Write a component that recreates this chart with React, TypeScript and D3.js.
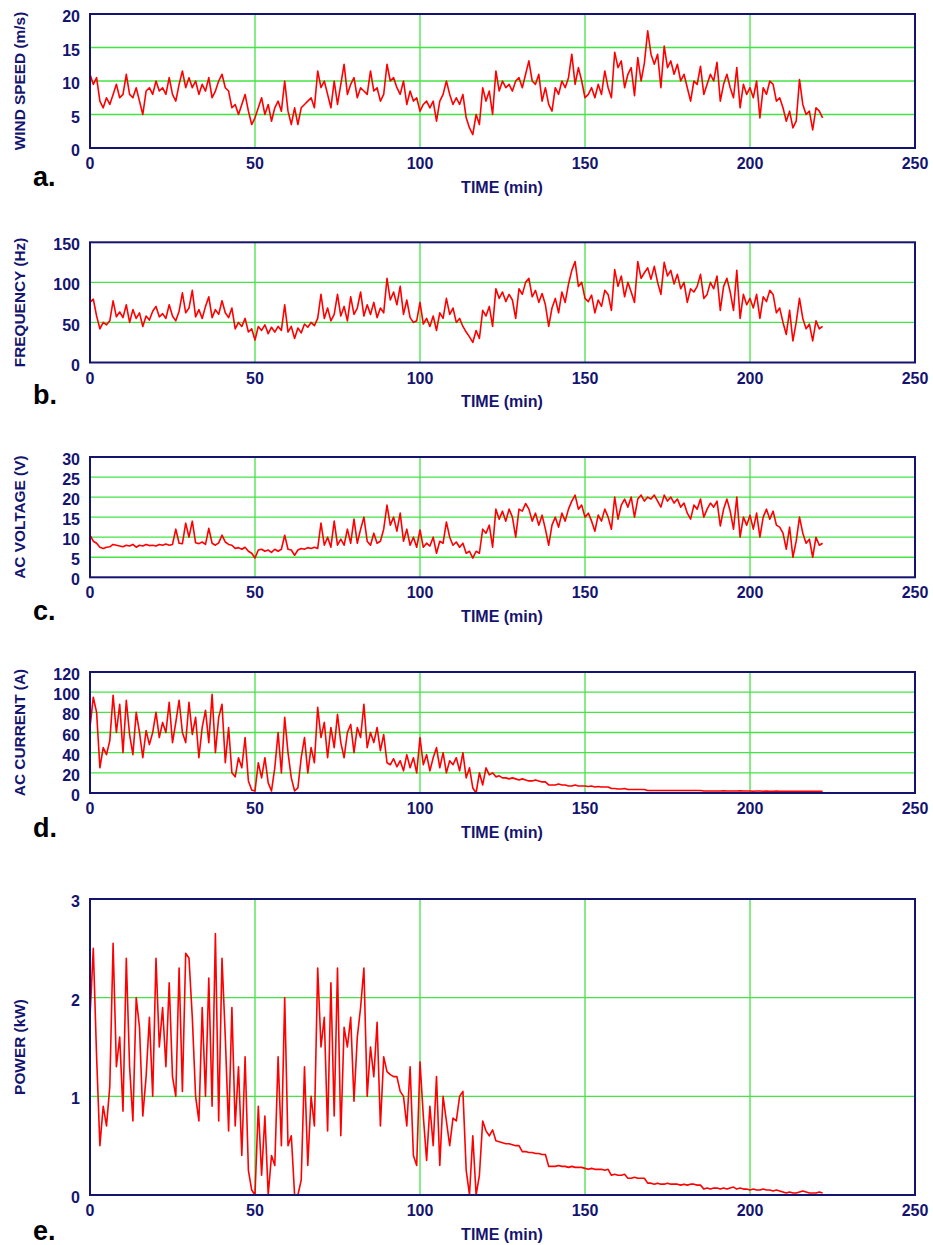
import React from 'react';
import * as d3 from 'd3';

// one sample per minute, t = 0 .. 222
const windSpeed = [
  11, 9.5, 10.5, 7, 6, 7.5, 6.5, 8, 9.5, 7.5,
  8, 11, 8, 7.5, 9, 7, 5, 8.5, 9, 8,
  10, 8.5, 9, 8, 10.5, 8, 7, 9.5, 11.5, 9,
  10.5, 9, 10, 8, 9.5, 8.5, 10.5, 7.5, 8.5, 10,
  11, 9, 8.5, 6, 6.5, 5, 6.5, 8, 5.5, 3.5,
  4.5, 6, 7.5, 5, 6.5, 4, 6, 7, 5.5, 10,
  5.5, 3.5, 6, 3.5, 6, 6.5, 7, 7.5, 6, 11.5,
  9, 10, 8, 6, 10, 6.5, 9.5, 12.5, 8, 9.5,
  10.5, 7.5, 9, 8.5, 8, 11.5, 8.5, 9, 7, 8,
  12.5, 10, 10.5, 9, 8, 10, 6.5, 8.5, 7, 7.5,
  5.5, 6.5, 7, 6, 7, 4, 7, 8, 10, 8,
  6.5, 7.5, 6.5, 8, 4.5, 3, 2, 5, 3.5, 9,
  7, 8.5, 5, 11.5, 8.5, 10, 9, 9.5, 8.5, 10,
  10.5, 9, 11, 13, 10, 9.5, 11, 7, 9, 6.5,
  5.5, 9, 8, 10, 9, 10.5, 14, 9.5, 12, 10,
  7.5, 8, 9, 7.5, 9.5, 8, 11.5, 9, 7.5, 14.3,
  12, 13, 9, 11, 12, 7.8, 13.5, 10, 12.7, 17.5,
  14, 12.5, 14, 9, 15.2, 12, 13, 11, 12.5, 10,
  11, 9, 7, 10, 9.5, 12.2, 8, 9.5, 11, 10,
  12.8, 7, 9.5, 11, 9, 7.5, 12, 6, 9.5, 8,
  9, 7.5, 10, 4.5, 9, 8, 10, 9.5, 7, 7.5,
  6, 4, 5.5, 3, 4, 10.2, 6.5, 5, 5.5, 2.7,
  6, 5.5, 4.5,
];

const frequency = [
  75, 79, 58, 42, 50, 47, 52, 77, 57, 63,
  56, 72, 50, 66, 55, 62, 45, 58, 53, 64,
  70, 57, 61, 55, 72, 58, 52, 64, 87, 62,
  68, 90, 57, 66, 55, 70, 82, 56, 66, 60,
  77, 62, 56, 68, 42, 50, 45, 55, 38, 42,
  28, 45, 40, 47, 36, 44, 38, 45, 40, 72,
  38, 45, 30, 43, 37, 48, 44, 50, 46, 55,
  85, 55, 68, 52, 60, 85, 58, 70, 52, 82,
  60, 68, 88, 58, 72, 60, 75, 56, 68, 62,
  105, 78, 88, 72, 95, 60, 78, 56, 50, 52,
  75, 48, 55, 45, 58, 40, 62, 55, 80, 60,
  68, 50, 55, 45, 38, 32, 25, 40, 30, 65,
  58, 70, 45, 92, 80, 88, 76, 85, 78, 55,
  92, 85, 100, 105, 82, 90, 75, 86, 72, 45,
  68, 80, 62, 88, 75, 98, 115, 126, 95, 100,
  80, 76, 84, 62, 78, 70, 90, 85, 65, 116,
  95, 108, 82, 100, 88, 75, 126, 105, 112, 118,
  104, 120, 100, 85, 125, 108, 115, 98, 110, 92,
  100, 75, 92, 88, 95, 110, 80, 85, 100, 92,
  108, 65, 95, 105, 88, 65, 115, 55, 85, 72,
  80, 68, 85, 55, 82, 76, 90, 85, 62, 68,
  50, 35, 65, 27, 50, 80, 55, 42, 48, 27,
  52, 42, 45,
];

const acVoltage = [
  10.5, 9, 8.5, 7.5, 7.2, 7.5, 7.6, 8.2, 8, 7.8,
  7.6, 8, 7.8, 8.2, 7.5, 8, 7.8, 8.2, 7.9, 8,
  7.8, 8.2, 8, 8.3, 8, 8.2, 12, 8.5, 8.4, 13.5,
  10, 14, 8.6, 8.4, 8.8, 8.2, 12.2, 8.5, 8, 8.6,
  10.5, 8.8, 8.2, 8, 7.2, 7.4, 7, 7.5, 6.5, 6,
  4.8, 6.8, 7, 6.5, 6.8, 6.2, 7, 6.5, 7, 10.5,
  7, 6.8, 5.5, 6.8, 7.2, 7, 7.4, 7.2, 7.5, 7.2,
  13.5, 8, 10, 7.5, 14, 8, 9.5, 8, 12, 8.5,
  14.5, 8.5, 12, 15, 9, 8, 11, 8.5, 9, 12,
  18, 13, 15, 11.5, 16, 9, 12, 8, 10, 7.5,
  11.8, 7.5, 8.5, 7.8, 10, 6, 9, 8.5, 13.8, 10,
  8, 8.8, 7.5, 8.5, 6, 6.5, 4.8, 6.5, 6, 12,
  11, 13, 7.5, 17, 14.5, 16.5, 14, 17, 15, 10,
  17, 16.5, 18.4, 17, 14, 16, 13, 15.5, 12, 8,
  13, 15, 12.5, 16, 14, 17, 19, 20.5, 17, 18,
  15, 16, 14, 11.5, 15.5, 14, 17, 15, 12, 20,
  14.5, 18, 19.5, 17.5, 20, 15, 19.5, 20.5, 19, 20,
  19.5, 20.5, 19, 17.5, 20.5, 19, 20, 18.5, 19.5, 17.5,
  18.5, 16, 14.5, 18, 17, 19.5, 15, 17, 18.5, 17.5,
  19, 12.8, 17, 19.5, 16.5, 12, 20, 10, 15, 13,
  15.5, 12, 16, 10, 15, 17, 14.5, 16.5, 13, 12.5,
  11, 7, 12.5, 5, 9, 15, 11, 8.5, 9.5, 5,
  10, 8, 8.5,
];

const acCurrent = [
  65, 95, 80, 25, 45, 38, 52, 97, 60, 88,
  40, 92, 58, 38, 80, 60, 35, 62, 48, 60,
  80, 55, 70, 60, 90, 50, 70, 92, 60, 50,
  90, 58, 75, 35, 65, 82, 50, 98, 40, 75,
  88, 30, 65, 20, 16, 35, 25, 55, 12, 3,
  2, 30, 15, 35, 10, 2, 25, 60, 20, 75,
  40, 15, 2, 5, 35, 55, 20, 45, 30, 85,
  55, 70, 35, 65, 45, 78, 50, 35, 60, 68,
  40, 65, 55, 88, 45, 60, 50, 65, 42, 58,
  30, 28, 34, 26, 32, 22, 38, 25, 35, 20,
  55, 28, 38, 22, 35, 45, 25, 40, 20, 32,
  28, 35, 22, 40, 15, 25, 5, 0, 20, 8,
  25, 18, 20, 16, 17, 15, 15, 14, 15, 14,
  13, 14, 13, 12, 12, 13, 12, 11, 11, 8,
  8, 8, 9, 8, 8, 7, 7, 8, 7, 7,
  7, 6.5, 7, 6, 6.5, 6, 6, 6, 4.5, 4.5,
  4, 4, 4.5, 3.5, 3.5, 3.5, 3.5, 3.5, 3.5, 2.5,
  2.5, 2.5, 2.5, 2.5, 2.5, 2.5, 2.5, 2.5, 2.5, 2.5,
  2.5, 2.5, 2.5, 2.5, 2.5, 2.5, 2, 2, 2, 2,
  2, 2, 2.2, 2, 2, 2, 2, 2.2, 2, 2,
  2, 1.8, 2, 2, 1.8, 2, 1.8, 1.8, 2, 1.8,
  1.8, 1.8, 1.8, 1.8, 1.8, 1.8, 1.8, 1.8, 1.8, 1.8,
  1.8, 1.8, 1.8,
];

const power = [
  1.8, 2.5, 1.4, 0.5, 0.9, 0.7, 1.1, 2.55, 1.3, 1.6,
  0.85, 2.4, 1.3, 0.75, 2.0, 1.7, 0.8, 1.2, 1.8, 1.0,
  2.4, 1.5, 1.9, 1.3, 2.15, 1.2, 1.0, 2.3, 1.05, 2.45,
  2.4, 1.8, 1.0, 0.75, 1.9, 1.0, 2.2, 0.9, 2.65, 0.75,
  2.4, 1.6, 0.65, 1.9, 0.7, 1.3, 0.4, 1.4, 0.25, 0.05,
  0.0, 0.9, 0.2, 0.8, 0.0, 0.4, 0.3, 1.4, 0.5, 2.0,
  0.5, 0.6, 0.0, 0.0, 0.15, 1.3, 0.3, 1.0, 0.7, 2.3,
  1.5, 1.8, 0.65, 2.15, 0.8, 2.3, 0.6, 1.7, 1.5, 1.8,
  0.95, 1.6, 1.9, 2.3, 1.0, 1.5, 1.2, 1.75, 0.7, 1.4,
  1.25, 1.22, 1.2, 1.2, 1.05, 1.0, 0.7, 1.3, 0.4, 0.3,
  1.35, 0.8, 0.35, 0.9, 0.5, 1.2, 0.3, 1.0, 0.75, 0.5,
  0.78, 0.75, 1.0, 1.05, 0.25, 0.0, 0.6, 0.0, 0.2, 0.75,
  0.65, 0.6, 0.66, 0.55, 0.54, 0.53, 0.52, 0.52, 0.51, 0.5,
  0.5, 0.44, 0.44, 0.43, 0.43, 0.42, 0.42, 0.41, 0.41, 0.29,
  0.29, 0.29, 0.3, 0.29, 0.29, 0.28, 0.29, 0.28, 0.28, 0.28,
  0.27, 0.26, 0.27, 0.26, 0.26, 0.26, 0.25, 0.26, 0.2, 0.21,
  0.2, 0.2, 0.21, 0.17, 0.17, 0.18, 0.17, 0.17, 0.17, 0.12,
  0.12, 0.11, 0.12, 0.11, 0.11, 0.12, 0.11, 0.11, 0.11, 0.1,
  0.11, 0.1, 0.11, 0.11, 0.1, 0.1, 0.06, 0.07, 0.06, 0.07,
  0.07, 0.06, 0.07, 0.06, 0.07, 0.08, 0.06, 0.07, 0.06, 0.06,
  0.05, 0.06, 0.05, 0.05, 0.06, 0.05, 0.05, 0.04, 0.05, 0.04,
  0.03, 0.02, 0.03, 0.02, 0.02, 0.03, 0.04, 0.03, 0.02, 0.02,
  0.02, 0.03, 0.02,
];

const timeTicks = [0, 50, 100, 150, 200, 250];
const windTicks = [0, 5, 10, 15, 20];
const freqTicks = [0, 50, 100, 150];
const voltTicks = [0, 5, 10, 15, 20, 25, 30];
const currTicks = [0, 20, 40, 60, 80, 100, 120];
const powerTicks = [0, 1, 2, 3];

const NAVY = '#141470';
const GRID = '#44e444';
const FONT = '"Liberation Sans", Arial, Helvetica, sans-serif';

const panels = [
  { label: 'a.', title: 'WIND SPEED (m/s)', data: windSpeed, ticks: windTicks, top: 14, bottom: 148, labelY: 186 },
  { label: 'b.', title: 'FREQUENCY (Hz)', data: frequency, ticks: freqTicks, top: 242.3, bottom: 362.5, labelY: 404 },
  { label: 'c.', title: 'AC VOLTAGE (V)', data: acVoltage, ticks: voltTicks, top: 457, bottom: 577.3, labelY: 620 },
  { label: 'd.', title: 'AC CURRENT (A)', data: acCurrent, ticks: currTicks, top: 672, bottom: 793, labelY: 837 },
  { label: 'e.', title: 'POWER (kW)', data: power, ticks: powerTicks, top: 899, bottom: 1195, labelY: 1240 },
];

const x = d3.scaleLinear().domain([0, 250]).range([90, 915]);

function Panel({ p }) {
  const y = d3.scaleLinear().domain([0, d3.max(p.ticks)]).range([p.bottom, p.top]);
  const line = d3.line().x((d, i) => x(i)).y(d => y(d));
  const midY = (p.top + p.bottom) / 2;
  return (
    <g>
      {p.ticks.slice(1, -1).map(t => (
        <line key={'h' + t} x1={x(0)} x2={x(250)} y1={y(t)} y2={y(t)} stroke={GRID} strokeWidth={1.3} />
      ))}
      {timeTicks.slice(1, -1).map(t => (
        <line key={'v' + t} x1={x(t)} x2={x(t)} y1={p.top} y2={p.bottom} stroke={GRID} strokeWidth={1.3} />
      ))}
      <path d={line(p.data)} fill="none" stroke="#ff0000" strokeWidth={1.6} strokeLinejoin="round" />
      <rect x={x(0)} y={p.top} width={x(250) - x(0)} height={p.bottom - p.top} fill="none" stroke={NAVY} strokeWidth={2} />
      {p.ticks.map(t => (
        <text key={'yl' + t} x={80} y={y(t) + 2.5} dy="0.35em" textAnchor="end" fontSize={16} fontWeight="bold" fill={NAVY}>{t}</text>
      ))}
      {timeTicks.map(t => (
        <text key={'xl' + t} x={x(t)} y={p.bottom + 15.5} dy="0.35em" textAnchor="middle" fontSize={16} fontWeight="bold" fill={NAVY}>{t}</text>
      ))}
      <text x={502} y={p.bottom + 39} dy="0.35em" textAnchor="middle" fontSize={16} fontWeight="bold" fill={NAVY}>TIME (min)</text>
      <text transform={`translate(19.5,${midY}) rotate(-90)`} dy="0.35em" textAnchor="middle" fontSize={15.4} fontWeight="bold" fill={NAVY}>{p.title}</text>
      <text x={33} y={p.labelY} fontSize={27} fontWeight="bold" fill="#000">{p.label}</text>
    </g>
  );
}

export default function App() {
  return (
    <svg width={933} height={1245} style={{ position: 'absolute', left: 0, top: 0, background: '#fff', fontFamily: FONT }}>
      {panels.map(p => <Panel key={p.label} p={p} />)}
    </svg>
  );
}
